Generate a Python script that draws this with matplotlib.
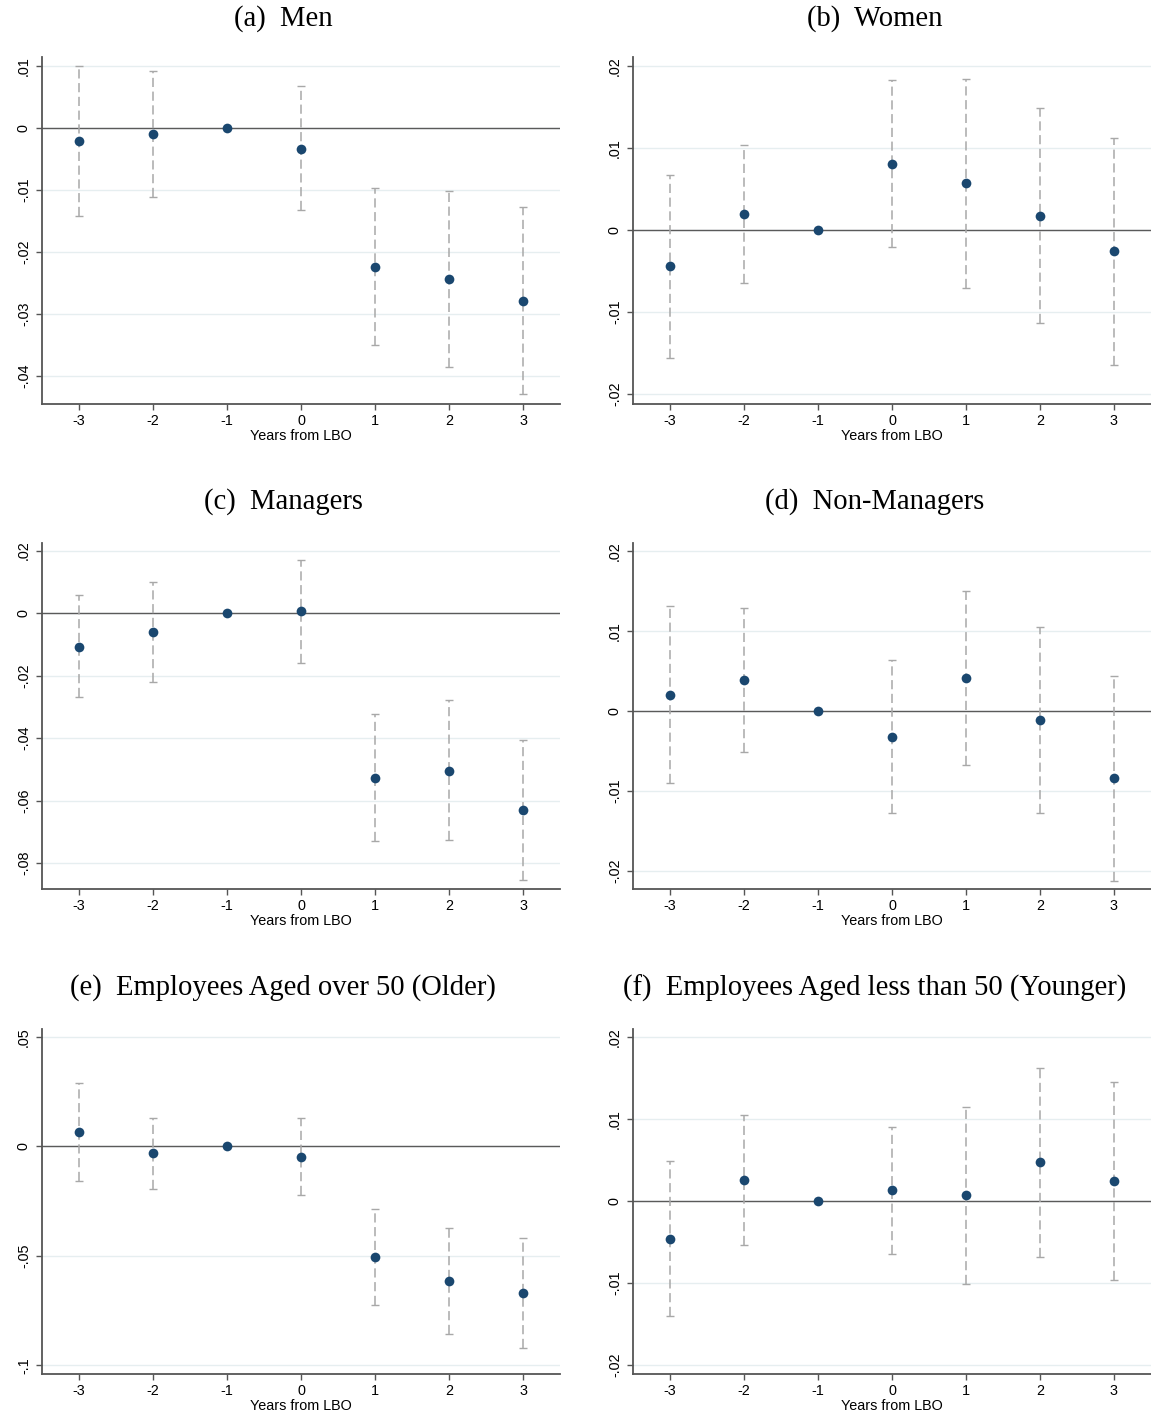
import matplotlib
matplotlib.use('Agg')
import matplotlib.pyplot as plt
import numpy as np

years = [-3, -2, -1, 0, 1, 2, 3]

# (a) Men
men_coef = [-0.0021, -0.0010, 0.0, -0.0034, -0.0224, -0.0244, -0.0279]
men_lo = [-0.0142, -0.0111, 0.0, -0.0132, -0.0350, -0.0385, -0.0429]
men_hi = [0.0100, 0.0092, 0.0, 0.0068, -0.0097, -0.0102, -0.0127]

# (b) Women
women_coef = [-0.0044, 0.0020, 0.0, 0.0080, 0.0057, 0.0017, -0.0026]
women_lo = [-0.0156, -0.0065, 0.0, -0.0021, -0.0071, -0.0113, -0.0165]
women_hi = [0.0067, 0.0104, 0.0, 0.0183, 0.0184, 0.0149, 0.0112]

# (c) Managers
mgr_coef = [-0.0109, -0.0061, 0.0, 0.0006, -0.0528, -0.0506, -0.0630]
mgr_lo = [-0.0269, -0.0221, 0.0, -0.0160, -0.0730, -0.0726, -0.0854]
mgr_hi = [0.0058, 0.0099, 0.0, 0.0170, -0.0323, -0.0278, -0.0406]

# (d) Non-Managers
nonmgr_coef = [0.0020, 0.0039, 0.0, -0.0033, 0.0041, -0.0011, -0.0084]
nonmgr_lo = [-0.0090, -0.0051, 0.0, -0.0128, -0.0068, -0.0128, -0.0213]
nonmgr_hi = [0.0131, 0.0129, 0.0, 0.0064, 0.0150, 0.0105, 0.0044]

# (e) Older
old_coef = [0.0064, -0.0032, 0.0, -0.0046, -0.0507, -0.0616, -0.0671]
old_lo = [-0.0160, -0.0196, 0.0, -0.0224, -0.0726, -0.0858, -0.0922]
old_hi = [0.0288, 0.0132, 0.0, 0.0128, -0.0288, -0.0374, -0.0420]

# (f) Younger
young_coef = [-0.0046, 0.0026, 0.0, 0.0013, 0.0007, 0.0048, 0.0024]
young_lo = [-0.0140, -0.0054, 0.0, -0.0065, -0.0101, -0.0068, -0.0096]
young_hi = [0.0049, 0.0105, 0.0, 0.0091, 0.0115, 0.0163, 0.0145]

titles = ['(a)  Men', '(b)  Women', '(c)  Managers', '(d)  Non-Managers',
          '(e)  Employees Aged over 50 (Older)',
          '(f)  Employees Aged less than 50 (Younger)']

yticks_a = [0.01, 0, -0.01, -0.02, -0.03, -0.04]
ylabels_a = ['.01', '0', '-.01', '-.02', '-.03', '-.04']
yticks_b = [0.02, 0.01, 0, -0.01, -0.02]
ylabels_b = ['.02', '.01', '0', '-.01', '-.02']
yticks_c = [0.02, 0, -0.02, -0.04, -0.06, -0.08]
ylabels_c = ['.02', '0', '-.02', '-.04', '-.06', '-.08']
yticks_e = [0.05, 0, -0.05, -0.1]
ylabels_e = ['.05', '0', '-.05', '-.1']

panels = [
    (men_coef, men_lo, men_hi, yticks_a, ylabels_a, (-0.0445, 0.01145)),
    (women_coef, women_lo, women_hi, yticks_b, ylabels_b, (-0.0212, 0.0211)),
    (mgr_coef, mgr_lo, mgr_hi, yticks_c, ylabels_c, (-0.0883, 0.0224)),
    (nonmgr_coef, nonmgr_lo, nonmgr_hi, yticks_b, ylabels_b, (-0.02225, 0.021)),
    (old_coef, old_lo, old_hi, yticks_e, ylabels_e, (-0.104, 0.0537)),
    (young_coef, young_lo, young_hi, yticks_b, ylabels_b, (-0.0211, 0.021)),
]

W, H = 1151, 1416
fig = plt.figure(figsize=(W / 100, H / 100), dpi=100)

lefts = [42, 633]
rows = [(57, 404), (543, 889), (1029, 1374)]
title_y = [19, 502, 988]
title_x = [283, 875]
ax_w = 518

navy = '#1a476f'
axis_col = '#555555'

for i, (coef, lo, hi, yt, yl, ylim) in enumerate(panels):
    r, c = divmod(i, 2)
    top, bot = rows[r]
    ax = fig.add_axes([lefts[c] / W, 1 - bot / H, ax_w / W, (bot - top) / H])
    for yv in yt:
        ax.axhline(yv, color='#e6eef0', lw=1.0, zorder=0)
    ax.axhline(0, color='#5a5a5a', lw=1.0, zorder=1)

    coef = np.array(coef)
    err = [coef - np.array(lo), np.array(hi) - coef]
    eb = ax.errorbar(years, coef, yerr=err, fmt='none', ecolor='#a8a8a8',
                     elinewidth=1.1, capsize=2.8, capthick=1.0, zorder=2)
    eb[2][0].set_linestyle((0, (6, 3)))
    ax.plot(years, coef, 'o', color=navy, markersize=7, zorder=3,
            markeredgewidth=0)

    ax.set_xlim(-3.5, 3.5)
    ax.set_ylim(*ylim)
    ax.set_xticks(years)
    ax.set_xticklabels([str(y) for y in years], family='Liberation Sans',
                       fontsize=10.4)
    ax.set_yticks(yt)
    ax.set_yticklabels(yl, family='Liberation Sans', fontsize=10.4,
                       rotation=90, va='center')
    ax.set_xlabel('Years from LBO', family='Liberation Sans', fontsize=10.4,
                  labelpad=1)
    for s in ['top', 'right']:
        ax.spines[s].set_visible(False)
    for s in ['left', 'bottom']:
        ax.spines[s].set_color(axis_col)
        ax.spines[s].set_linewidth(1.3)
    ax.tick_params(axis='both', color=axis_col, length=4, width=1.0,
                   labelcolor='black')
    ax.tick_params(axis='y', pad=4)
    ax.tick_params(axis='x', pad=3)

    fig.text(title_x[c] / W, 1 - title_y[r] / H, titles[i], ha='center',
             va='center', family='Liberation Serif', fontsize=20.6)

fig.savefig('out.png', dpi=100)
